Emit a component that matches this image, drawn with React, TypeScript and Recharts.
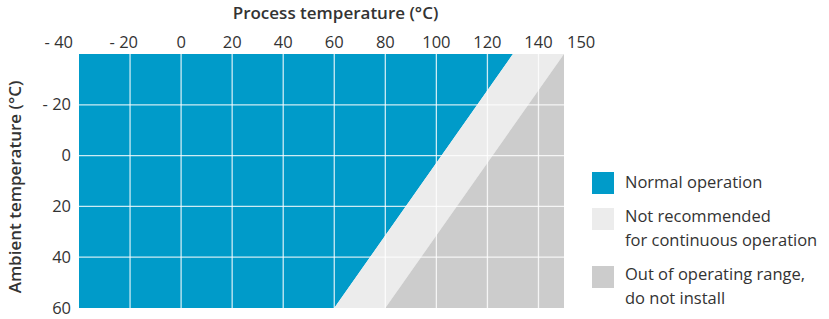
import { ComposedChart, Area, XAxis, YAxis, ReferenceLine, Label } from "recharts";

// operating envelope
const ambient = [-40, 60];
const normalLimit = [130, 60];
const notRecommendedLimit = [150, 80];
const processMin = -40;
const processMax = 150;

const xTicks = [-40, -20, 0, 20, 40, 60, 80, 100, 120, 140, 150];
const xTickLabels = ["- 40", "- 20", "0", "20", "40", "60", "80", "100", "120", "140", "150"];
const yTicks = [-20, 0, 20, 40, 60];
const yTickLabels = ["- 20", "0", "20", "40", "60"];
const gridX = [-20, 0, 20, 40, 60, 80, 100, 120, 140];
const gridY = [-20, 0, 20, 40];

const zoneNames = [
  ["Normal operation"],
  ["Not recommended", "for continuous operation"],
  ["Out of operating range,", "do not install"],
];
const zoneColors = ["#009bc9", "#ececec", "#cccccc"];

const FONT = "'Open Sans', sans-serif";
const TEXT = "#333333";

const data = ambient.map((a, i) => ({
  ambient: a,
  normal: [processMin, normalLimit[i]],
  notRecommended: [normalLimit[i], notRecommendedLimit[i]],
  outOfRange: [notRecommendedLimit[i], processMax],
}));

function XTick({ x, y, payload }: any) {
  const v = payload.value;
  const label = xTickLabels[xTicks.indexOf(v)];
  let anchor: "middle" | "end" | "start" = "middle";
  let dx = 0;
  if (v === -40) {
    anchor = "end";
    dx = -6;
  } else if (v < 0) {
    anchor = "end";
    dx = 8;
  } else if (v === 150) {
    anchor = "start";
    dx = 3;
  }
  return (
    <text x={x + dx} y={y} textAnchor={anchor} fill={TEXT} fontSize={16.5} fontFamily={FONT}>
      {label}
    </text>
  );
}

function YTick({ x, y, payload }: any) {
  const label = yTickLabels[yTicks.indexOf(payload.value)];
  return (
    <text x={x} y={y} dy={5.5} textAnchor="end" fill={TEXT} fontSize={16.5} fontFamily={FONT}>
      {label}
    </text>
  );
}

export default function App() {
  return (
    <div style={{ position: "absolute", left: 0, top: 0, width: 829, height: 319, background: "#fff" }}>
      <ComposedChart
        width={829}
        height={319}
        data={data}
        layout="vertical"
        margin={{ top: 53, left: 78, right: 265, bottom: 11 }}
      >
        <XAxis
          type="number"
          orientation="top"
          domain={[processMin, processMax]}
          ticks={xTicks}
          interval={0}
          height={1}
          axisLine={false}
          tickLine={false}
          tickSize={0}
          tickMargin={6}
          tick={<XTick />}
          allowDataOverflow
        >
          <Label
            content={({ viewBox }: any) => {
              const cx = viewBox ? viewBox.x + viewBox.width / 2 : 321;
              return (
                <text x={cx + 14} y={19} textAnchor="middle" fill={TEXT} fontSize={17} fontWeight={600} fontFamily={FONT}>
                  Process temperature (°C)
                </text>
              );
            }}
          />
        </XAxis>
        <YAxis
          type="number"
          dataKey="ambient"
          domain={[-40, 60]}
          ticks={yTicks}
          interval={0}
          width={1}
          axisLine={false}
          tickLine={false}
          tickSize={0}
          tickMargin={8}
          tick={<YTick />}
          allowDataOverflow
        >
          <Label
            content={({ viewBox }: any) => {
              const cy = viewBox ? viewBox.y + viewBox.height / 2 : 181;
              return (
                <text
                  x={21}
                  y={cy + 6}
                  transform={`rotate(-90, 21, ${cy + 6})`}
                  textAnchor="middle"
                  fill={TEXT}
                  fontSize={17}
                  fontWeight={600}
                  fontFamily={FONT}
                >
                  Ambient temperature (°C)
                </text>
              );
            }}
          />
        </YAxis>
        <Area
          type="linear"
          dataKey="normal"
          fill={zoneColors[0]}
          fillOpacity={1}
          stroke="none"
          isAnimationActive={false}
        />
        <Area
          type="linear"
          dataKey="notRecommended"
          fill={zoneColors[1]}
          fillOpacity={1}
          stroke="none"
          isAnimationActive={false}
        />
        <Area
          type="linear"
          dataKey="outOfRange"
          fill={zoneColors[2]}
          fillOpacity={1}
          stroke="none"
          isAnimationActive={false}
        />
        {gridX.map((v) => (
          <ReferenceLine key={"gx" + v} x={v} stroke="#ffffff" strokeOpacity={0.8} strokeWidth={1.3} />
        ))}
        {gridY.map((v) => (
          <ReferenceLine key={"gy" + v} y={v} stroke="#ffffff" strokeOpacity={0.8} strokeWidth={1.3} />
        ))}
      </ComposedChart>

      <div
        style={{
          position: "absolute",
          left: 592,
          top: 170,
          display: "flex",
          flexDirection: "column",
          gap: 10,
          fontFamily: FONT,
          fontSize: 16.5,
          lineHeight: "24px",
          color: TEXT,
        }}
      >
        {zoneNames.map((lines, i) => (
          <div key={i} style={{ display: "flex", alignItems: "flex-start" }}>
            <div
              style={{
                width: 22,
                height: 22,
                marginTop: lines.length > 1 ? 4 : 2,
                marginRight: 11,
                background: zoneColors[i],
                flex: "none",
              }}
            />
            <div>
              {lines.map((l) => (
                <div key={l}>{l}</div>
              ))}
            </div>
          </div>
        ))}
      </div>
    </div>
  );
}
